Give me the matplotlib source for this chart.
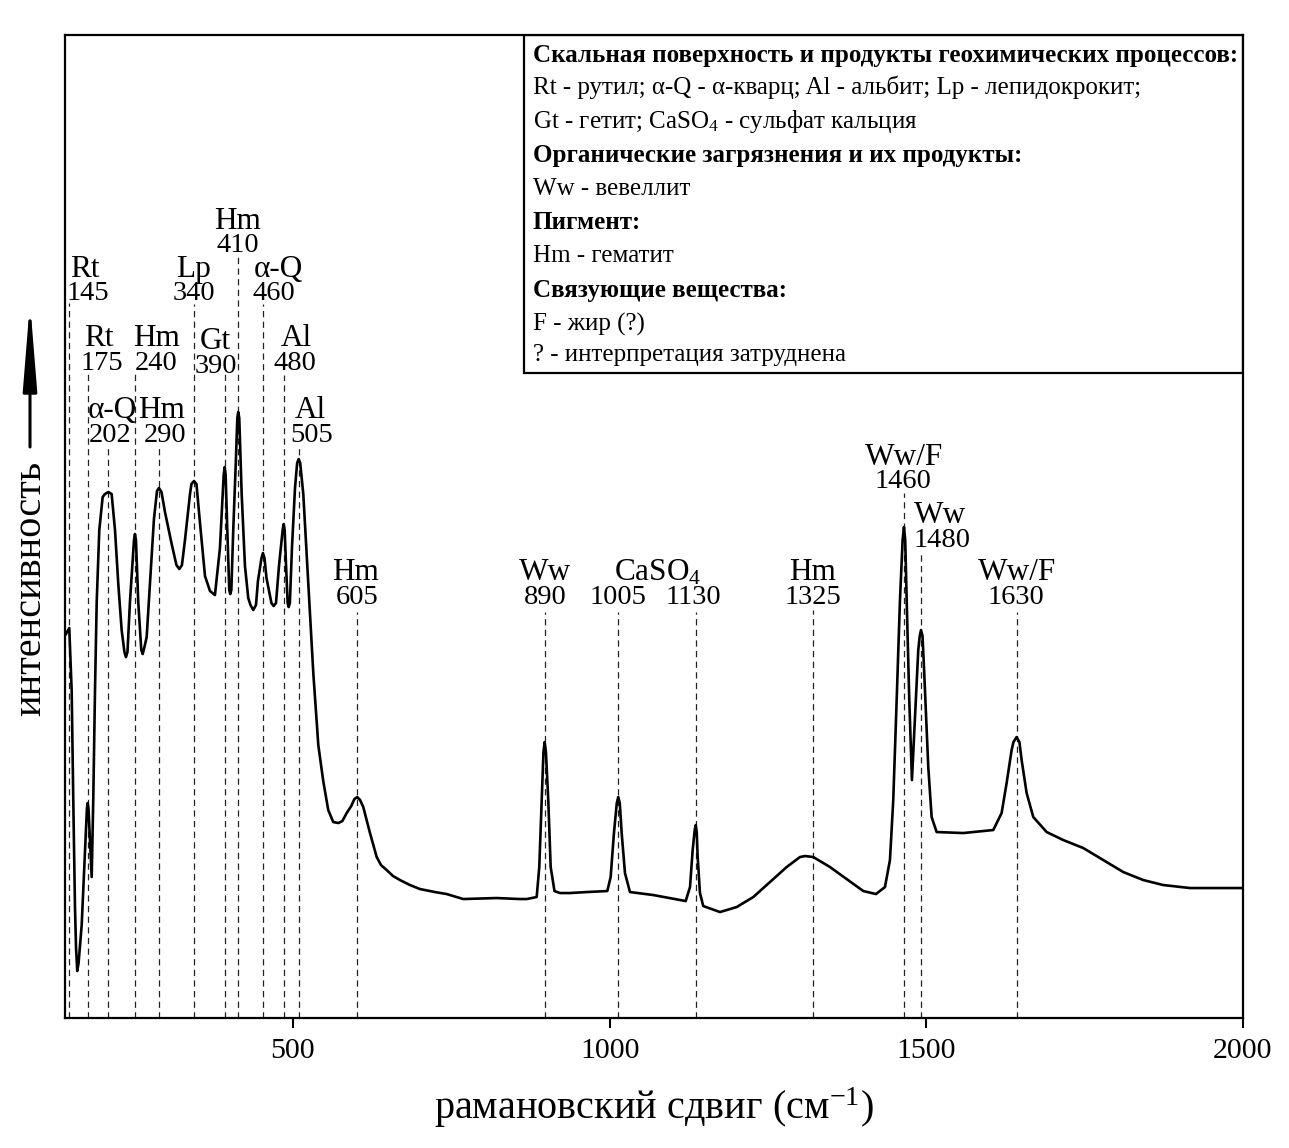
import matplotlib
matplotlib.use('Agg')
import matplotlib.pyplot as plt
from matplotlib.patches import Rectangle

plt.rcParams['font.family'] = ['Liberation Serif', 'DejaVu Serif']
plt.rcParams['mathtext.fontset'] = 'custom'
plt.rcParams['mathtext.rm'] = 'Liberation Serif'
plt.rcParams['mathtext.it'] = 'Liberation Serif:italic'

# spectrum (arbitrary intensity units)
wavenumber = [141.6, 146.8, 150.6, 153.1, 155.8, 157.5, 159.4, 161.5, 166.4, 171.6,
              174.7, 175.8, 177.1, 182.2, 184.7, 187.4, 190.1, 194.2, 199.5, 203.2,
              208.5, 213.7, 219.0, 224.2, 229.5, 233.9, 236.3, 238.7, 242.6, 249.0,
              250.5, 252.1, 255.7, 260.5, 262.7, 265.5, 269.0, 274.2, 280.5, 285.3,
              288.4, 292.4, 297.9, 308.5, 316.0, 320.5, 324.7, 329.5, 337.4, 339.7,
              343.7, 347.6, 353.2, 361.1, 369.0, 376.8, 384.7, 390.6, 392.2, 393.7,
              396.3, 399.4, 401.0, 402.7, 405.7, 410.0, 412.1, 413.6, 415.2, 419.0,
              424.2, 429.4, 432.9, 437.3, 441.6, 444.7, 450.3, 452.6, 455.0, 458.2,
              466.0, 469.5, 473.2, 477.9, 483.7, 485.3, 486.9, 488.9, 491.6, 493.2,
              495.1, 498.4, 503.2, 506.6, 509.0, 511.4, 516.3, 524.2, 532.1, 540.0,
              547.8, 555.7, 563.6, 571.5, 578.0, 584.8, 592.0, 597.0, 601.5, 606.0,
              611.0, 621.6, 632.2, 639.0, 647.9, 658.0, 669.0, 684.7, 700.5, 724.2,
              742.7, 768.9, 821.6, 858.4, 869.0, 884.8, 888.9, 892.7, 895.5, 897.4,
              899.4, 903.1, 906.9, 912.9, 921.6, 937.4, 963.7, 996.3, 1001.6, 1006.8,
              1011.3, 1013.6, 1016.0, 1019.0, 1024.2, 1032.1, 1068.9, 1120.1, 1126.9, 1131.1,
              1134.3, 1135.9, 1137.5, 1139.0, 1142.6, 1147.8, 1174.2, 1200.6, 1226.8, 1253.2,
              1279.5, 1300.5, 1308.4, 1321.5, 1347.9, 1374.2, 1400.5, 1420.5, 1434.7, 1442.6,
              1447.8, 1453.2, 1458.4, 1462.6, 1464.7, 1466.7, 1469.0, 1473.1, 1477.3, 1482.1,
              1487.3, 1489.6, 1491.6, 1494.0, 1496.3, 1503.1, 1508.4, 1516.3, 1558.3, 1605.7,
              1618.9, 1626.8, 1634.7, 1637.6, 1642.6, 1647.0, 1650.5, 1658.4, 1668.9, 1690.0,
              1716.2, 1747.8, 1779.4, 1811.0, 1842.5, 1874.1, 1916.3, 1958.4, 2000.0]
intensity = [384, 390, 327, 219, 111, 70, 47, 55, 93, 165,
             210, 215, 210, 141, 219, 327, 416, 488, 521, 524,
             526, 524, 488, 434, 388, 366, 361, 366, 416, 478,
             484, 478, 416, 368, 364, 371, 381, 434, 499, 527,
             530, 526, 506, 474, 453, 449, 453, 478, 524, 534,
             537, 534, 495, 442, 427, 423, 470, 543, 551, 543,
             488, 428, 424, 428, 488, 560, 600, 606, 600, 524,
             452, 420, 413, 408, 413, 437, 460, 465, 460, 440,
             415, 412, 415, 452, 488, 494, 488, 455, 415, 411,
             415, 470, 530, 555, 559, 555, 524, 434, 345, 273,
             237, 208, 196, 195, 197, 205, 212, 219, 221, 218,
             211, 185, 161, 153, 148, 142, 138, 133, 129, 126,
             124, 119, 120, 119, 119, 121, 151, 218, 266, 276,
             266, 218, 151, 127, 125, 125, 126, 127, 141, 185,
             215, 221, 215, 185, 145, 126, 123, 117, 131, 168,
             188, 193, 186, 161, 125, 112, 106, 111, 121, 136,
             151, 161, 162, 161, 151, 139, 127, 124, 131, 158,
             218, 318, 418, 478, 491, 478, 418, 318, 238, 301,
             368, 382, 388, 382, 351, 251, 201, 186, 185, 188,
             205, 235, 268, 276, 281, 276, 258, 225, 201, 186,
             178, 170, 158, 146, 138, 133, 130, 130, 130]

# peak markers
peak_pos = [146.8, 175.8, 208.4, 250.5, 288.4, 343.7, 392.2, 413.6, 452.6, 485.3,
            509.0, 601.5, 897.4, 1013.6, 1135.9, 1321.5, 1464.7, 1491.6, 1642.6]
line_top = [715, 645, 573, 645, 573, 714, 645, 763, 714, 643,
            573, 406, 406, 406, 406, 408, 525, 466, 406]
peak_num = ['145', '175', '202', '240', '290', '340', '390', '410', '460', '480',
            '505', '605', '890', '1005', '1130', '1325', '1460', '1480', '1630']
num_x = [176.3, 198.4, 211.1, 283.7, 297.9, 343.7, 378.4, 413.2, 470.0, 503.2,
         530.0, 601.1, 897.9, 1013.2, 1131.6, 1321.0, 1463.1, 1524.7, 1641.5]
num_y = [718, 648, 576, 648, 576, 718, 645, 766, 718, 648,
         576, 414, 414, 414, 414, 414, 530, 471, 414]

peak_name = ['Rt', 'Rt', 'α-Q', 'Hm', 'Hm', 'Lp', 'Gt', 'Hm', 'α-Q', 'Al',
             'Al', 'Hm', 'Ww', r'CaSO$_4$', 'Hm', 'Ww/F', 'Ww', 'Ww/F']
name_x = [171.6, 193.7, 214.2, 285.3, 293.2, 343.7, 376.8, 413.2, 476.3, 504.7,
          526.8, 599.5, 897.9, 1076.3, 1321.0, 1464.7, 1521.6, 1643.1]
name_y = [741, 672, 600, 672, 600, 741, 669, 789, 741, 672,
          600, 438, 438, 438, 438, 553, 495, 438]

legend_lines = [
    ('Скальная поверхность и продукты геохимических процессов:', 'bold'),
    ('Rt - рутил; α-Q - α-кварц; Al - альбит; Lp - лепидокрокит;', 'normal'),
    (r'Gt - гетит; CaSO$_4$ - сульфат кальция', 'normal'),
    ('Органические загрязнения и их продукты:', 'bold'),
    ('Ww - вевеллит', 'normal'),
    ('Пигмент:', 'bold'),
    ('Hm - гематит', 'normal'),
    ('Связующие вещества:', 'bold'),
    ('F - жир (?)', 'normal'),
    ('? - интерпретация затруднена', 'normal'),
]

fig = plt.figure(figsize=(12.89, 11.48), dpi=100)
ax = fig.add_axes([0.0504, 0.1132, 0.9139, 0.8563])

ax.vlines(peak_pos, 0, line_top, colors='#222222', linestyles=(0, (5, 3.5)), linewidth=0.9)
ax.plot(wavenumber, intensity, color='black', linewidth=1.9, solid_joinstyle='round')

for x, y, s in zip(num_x, num_y, peak_num):
    ax.text(x, y, s, fontsize=20.5, ha='center', va='baseline')
for x, y, s in zip(name_x, name_y, peak_name):
    ax.text(x, y, s, fontsize=22.5, ha='center', va='baseline')

ax.set_xlim(140, 2000)
ax.set_ylim(0, 983)
ax.set_yticks([])
ax.set_xticks([500, 1000, 1500, 2000])
ax.tick_params(axis='x', direction='out', length=7.5, width=1.5, labelsize=21.5, pad=7)
for sp in ax.spines.values():
    sp.set_linewidth(1.6)

# legend box in the upper right corner
ax.add_patch(Rectangle((0.3896, 0.656), 0.6104, 0.344, transform=ax.transAxes,
                       fill=False, edgecolor='black', linewidth=1.6, zorder=5))
legend_y = [0.9725, 0.9395, 0.905, 0.8705, 0.837, 0.8025, 0.769, 0.733, 0.6995, 0.668]
for (s, w), y in zip(legend_lines, legend_y):
    ax.text(0.397, y, s, transform=ax.transAxes, fontsize=18, fontweight=w,
            ha='left', va='baseline')

ax.set_xlabel(r'рамановский сдвиг (см$^{-1}$)', fontsize=29, labelpad=15)

fig.text(31 / 1289, 1 - 588 / 1148, 'интенсивность', rotation=90, fontsize=29,
         ha='center', va='center')
ax.annotate('', xy=(30 / 1289, 1 - 302 / 1148), xytext=(30 / 1289, 1 - 447 / 1148),
            xycoords='figure fraction', textcoords='figure fraction',
            arrowprops=dict(arrowstyle='-|>,head_length=5.2,head_width=0.42',
                            mutation_scale=10, lw=2.2, color='black',
                            shrinkA=0, shrinkB=0))

fig.savefig('out.png', dpi=100)
